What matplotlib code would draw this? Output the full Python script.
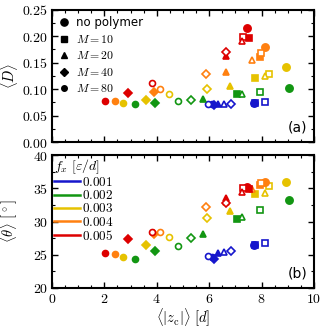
import matplotlib

matplotlib.use("Agg")
import matplotlib.pyplot as plt
from matplotlib.lines import Line2D
from matplotlib.ticker import FuncFormatter, MultipleLocator

plt.rcParams["mathtext.fontset"] = "cm"
plt.rcParams["font.family"] = "DejaVu Sans"

# point order within each force: no polymer, M=10 filled/open, M=20 filled/open,
# M=40 filled/open, M=80 filled/open
forces = ["0.001", "0.002", "0.003", "0.004", "0.005"]
colors = ["#1616cc", "#129612", "#e6c200", "#ff8010", "#dd0000"]

z_c = {
    "0.001": [7.73, 7.75, 8.15, 6.35, 6.55, 6.20, 6.85, 6.10, 5.95],
    "0.002": [9.04, 7.07, 7.94, 5.78, 7.26, 3.95, 5.32, 3.17, 4.82],
    "0.003": [8.93, 7.76, 8.28, 6.79, 8.13, 3.59, 5.90, 2.71, 4.47],
    "0.004": [8.13, 7.94, 7.96, 6.65, 7.64, 3.91, 5.89, 2.42, 4.14],
    "0.005": [7.46, 7.52, 7.29, 6.66, 7.26, 2.90, 6.64, 2.04, 3.82],
}
D_mean = {
    "0.001": [0.074, 0.074, 0.075, 0.071, 0.071, 0.070, 0.071, 0.071, 0.071],
    "0.002": [0.103, 0.090, 0.095, 0.082, 0.090, 0.073, 0.080, 0.071, 0.078],
    "0.003": [0.142, 0.121, 0.129, 0.106, 0.125, 0.080, 0.101, 0.074, 0.090],
    "0.004": [0.179, 0.160, 0.168, 0.132, 0.155, 0.094, 0.128, 0.078, 0.100],
    "0.005": [0.216, 0.196, 0.199, 0.163, 0.191, 0.092, 0.170, 0.078, 0.112],
}
theta_mean = {
    "0.001": [26.4, 26.5, 26.75, 25.3, 25.45, 24.4, 25.5, 24.6, 24.8],
    "0.002": [33.3, 30.45, 31.8, 28.1, 30.7, 25.5, 27.5, 24.3, 26.3],
    "0.003": [36.0, 34.1, 35.4, 31.65, 34.25, 26.4, 30.55, 24.6, 27.7],
    "0.004": [36.0, 35.5, 35.8, 32.9, 34.9, 28.2, 32.2, 25.05, 28.5],
    "0.005": [35.2, 34.9, 35.0, 33.5, 34.5, 27.4, 32.8, 25.2, 28.45],
}

# marker, size, filled
POINT_STYLE = [
    ("o", 5.2, True),
    ("s", 4.6, True), ("s", 4.6, False),
    ("^", 4.8, True), ("^", 4.8, False),
    ("D", 4.2, True), ("D", 4.2, False),
    ("o", 4.3, True), ("o", 4.3, False),
]

fig = plt.figure(figsize=(3.25, 3.28), dpi=100)
ax_a = fig.add_axes([0.16, 0.567, 0.806, 0.403])
ax_b = fig.add_axes([0.16, 0.122, 0.806, 0.405])


def draw(ax, values):
    for f, c in zip(forces, colors):
        for x, y, (mk, ms, filled) in zip(z_c[f], values[f], POINT_STYLE):
            ax.plot(x, y, ls="none", marker=mk, ms=ms, mec=c, mew=1.2,
                    mfc=c if filled else "white", zorder=3)


draw(ax_a, D_mean)
draw(ax_b, theta_mean)

for ax in (ax_a, ax_b):
    ax.set_xlim(0, 10)
    ax.xaxis.set_major_locator(MultipleLocator(2))
    ax.xaxis.set_minor_locator(MultipleLocator(0.5))
    ax.tick_params(which="both", direction="in", top=True, right=True)
    ax.tick_params(which="major", length=4, width=1, pad=3)
    ax.tick_params(which="minor", length=2.5, width=0.8)
    for s in ax.spines.values():
        s.set_linewidth(1.5)

ax_a.set_ylim(0, 0.25)
ax_a.yaxis.set_major_locator(MultipleLocator(0.05))
ax_a.yaxis.set_minor_locator(MultipleLocator(0.025))
ax_a.yaxis.set_major_formatter(FuncFormatter(lambda v, p: f"${v:.2f}$"))
ax_a.set_xticklabels([])
ax_a.set_ylabel(r"$\langle D\rangle$", fontsize=10.5)
ax_a.yaxis.set_label_coords(-0.122, 0.5)
ax_a.text(0.975, 0.06, "(a)", transform=ax_a.transAxes, ha="right", va="bottom", fontsize=10)

ax_b.set_ylim(20, 40)
ax_b.yaxis.set_major_locator(MultipleLocator(5))
ax_b.yaxis.set_minor_locator(MultipleLocator(2.5))
ax_b.yaxis.set_major_formatter(FuncFormatter(lambda v, p: f"${v:.0f}$"))
ax_b.xaxis.set_major_formatter(FuncFormatter(lambda v, p: f"${v:.0f}$"))
ax_b.set_ylabel(r"$\langle\theta\rangle\ [^\circ]$", fontsize=10.5)
ax_b.yaxis.set_label_coords(-0.122, 0.5)
ax_b.set_xlabel(r"$\langle|z_\mathrm{c}|\rangle\ [d]$", fontsize=10.5, labelpad=0)
ax_b.text(0.975, 0.06, "(b)", transform=ax_b.transAxes, ha="right", va="bottom", fontsize=10)

for ax in (ax_a, ax_b):
    for lab in ax.get_xticklabels() + ax.get_yticklabels():
        lab.set_fontsize(10)

marker_handles = [
    Line2D([], [], ls="none", marker="o", ms=5.2, color="k", label="no polymer"),
    Line2D([], [], ls="none", marker="s", ms=4.6, color="k", label=r"$M = 10$"),
    Line2D([], [], ls="none", marker="^", ms=4.8, color="k", label=r"$M = 20$"),
    Line2D([], [], ls="none", marker="D", ms=4.2, color="k", label=r"$M = 40$"),
    Line2D([], [], ls="none", marker="o", ms=4.0, color="k", label=r"$M = 80$"),
]
ax_a.legend(handles=marker_handles, loc="upper left", frameon=False, fontsize=8.5,
            handlelength=1.0, handletextpad=0.5, labelspacing=0.3,
            borderaxespad=0.2, borderpad=0.35)

force_handles = [Line2D([], [], color=c, lw=1.8, label=f"${f}$")
                 for f, c in zip(forces, colors)]
leg = ax_b.legend(handles=force_handles, loc="upper left", frameon=False, fontsize=9.5,
                  title=r"$f_x\ [\varepsilon/d]$", title_fontsize=10,
                  handlelength=2.0, handletextpad=0.1, labelspacing=0.02,
                  borderaxespad=0.0, borderpad=0.15)
leg._legend_box.align = "left"

fig.savefig("out.png", dpi=100)
